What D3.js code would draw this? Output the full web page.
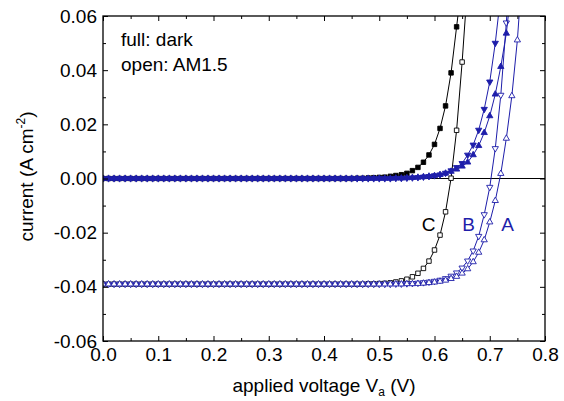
<!DOCTYPE html>
<html>
<head>
<meta charset="utf-8">
<script src="https://cdn.jsdelivr.net/npm/d3@7/dist/d3.min.js"></script>
<style>
  body { margin: 0; background: #fff; }
  text { font-family: "Liberation Sans", Arial, sans-serif; }
</style>
</head>
<body>
<script>
'use strict';

//data: voltage grid (V) and current densities (A cm^-2)
var volts = [0.00, 0.01, 0.02, 0.03, 0.04, 0.05, 0.06, 0.07, 0.08, 0.09,
  0.10, 0.11, 0.12, 0.13, 0.14, 0.15, 0.16, 0.17, 0.18, 0.19,
  0.20, 0.21, 0.22, 0.23, 0.24, 0.25, 0.26, 0.27, 0.28, 0.29,
  0.30, 0.31, 0.32, 0.33, 0.34, 0.35, 0.36, 0.37, 0.38, 0.39,
  0.40, 0.41, 0.42, 0.43, 0.44, 0.45, 0.46, 0.47, 0.48, 0.49,
  0.50, 0.51, 0.52, 0.53, 0.54, 0.55, 0.56, 0.57, 0.58, 0.59,
  0.60, 0.61, 0.62, 0.63, 0.64, 0.65, 0.66, 0.67, 0.68, 0.69,
  0.70, 0.71, 0.72, 0.73, 0.74, 0.75, 0.76];

var cDark = [0, 0, 0, 0, 0, 0, 0, 0, 0, 0,
  0, 0, 0, 0, 0, 0, 0, 0, 0, 0,
  0, 0, 0, 0, 0, 0, 0, 0, 0, 0,
  0, 0, 0, 0, 0, 0, 0, 0, 0, 0,
  0, 0, 0, 0, 0, 0, 0.0001, 0.0001, 0.0002, 0.0003,
  0.0004, 0.0005, 0.0008, 0.0011, 0.0014, 0.0019, 0.0029, 0.0041, 0.0060, 0.0087,
  0.0126, 0.0185, 0.0268, 0.0390, 0.0560, 0.0730];

var cLight = [-0.039, -0.039, -0.039, -0.039, -0.039, -0.039, -0.039, -0.039, -0.039, -0.039,
  -0.039, -0.039, -0.039, -0.039, -0.039, -0.039, -0.039, -0.039, -0.039, -0.039,
  -0.039, -0.039, -0.039, -0.039, -0.039, -0.039, -0.039, -0.039, -0.039, -0.039,
  -0.039, -0.039, -0.039, -0.039, -0.039, -0.039, -0.039, -0.039, -0.039, -0.039,
  -0.039, -0.039, -0.039, -0.039, -0.039, -0.039, -0.039, -0.039, -0.0389, -0.0389,
  -0.0388, -0.0387, -0.0385, -0.0382, -0.0378, -0.0372, -0.0363, -0.0350, -0.0332, -0.0305,
  -0.0264, -0.0209, -0.0123, 0.0001, 0.0178, 0.0430, 0.0720];

var bDark = [0, 0, 0, 0, 0, 0, 0, 0, 0, 0,
  0, 0, 0, 0, 0, 0, 0, 0, 0, 0,
  0, 0, 0, 0, 0, 0, 0, 0, 0, 0,
  0, 0, 0, 0, 0, 0, 0, 0, 0, 0,
  0, 0, 0, 0, 0, 0, 0, 0, 0, 0,
  0, 0, 0, 0.0001, 0.0001, 0.0002, 0.0003, 0.0004, 0.0006, 0.0008,
  0.0011, 0.0014, 0.0020, 0.0029, 0.0041, 0.0056, 0.0087, 0.0124, 0.0179, 0.0256,
  0.0357, 0.0500, 0.0680];

var aDark = [0, 0, 0, 0, 0, 0, 0, 0, 0, 0,
  0, 0, 0, 0, 0, 0, 0, 0, 0, 0,
  0, 0, 0, 0, 0, 0, 0, 0, 0, 0,
  0, 0, 0, 0, 0, 0, 0, 0, 0, 0,
  0, 0, 0, 0, 0, 0, 0, 0, 0, 0,
  0, 0, 0, 0.0001, 0.0001, 0.0002, 0.0003, 0.0004, 0.0006, 0.0008,
  0.0010, 0.0014, 0.0019, 0.0026, 0.0034, 0.0045, 0.0060, 0.0087, 0.0121, 0.0169,
  0.0231, 0.0311, 0.0413, 0.0536, 0.0720];

var bLight = [-0.039, -0.039, -0.039, -0.039, -0.039, -0.039, -0.039, -0.039, -0.039, -0.039,
  -0.039, -0.039, -0.039, -0.039, -0.039, -0.039, -0.039, -0.039, -0.039, -0.039,
  -0.039, -0.039, -0.039, -0.039, -0.039, -0.039, -0.039, -0.039, -0.039, -0.039,
  -0.039, -0.039, -0.039, -0.039, -0.039, -0.039, -0.039, -0.039, -0.039, -0.039,
  -0.039, -0.039, -0.039, -0.039, -0.039, -0.039, -0.039, -0.039, -0.039, -0.039,
  -0.039, -0.039, -0.039, -0.0389, -0.0389, -0.0388, -0.0387, -0.0386, -0.0384, -0.0382,
  -0.0379, -0.0375, -0.0369, -0.0360, -0.0348, -0.0330, -0.0304, -0.0267, -0.0213, -0.0133,
  -0.0032, 0.0111, 0.0308, 0.0575, 0.0880];

var aLight = [-0.039, -0.039, -0.039, -0.039, -0.039, -0.039, -0.039, -0.039, -0.039, -0.039,
  -0.039, -0.039, -0.039, -0.039, -0.039, -0.039, -0.039, -0.039, -0.039, -0.039,
  -0.039, -0.039, -0.039, -0.039, -0.039, -0.039, -0.039, -0.039, -0.039, -0.039,
  -0.039, -0.039, -0.039, -0.039, -0.039, -0.039, -0.039, -0.039, -0.039, -0.039,
  -0.039, -0.039, -0.039, -0.039, -0.039, -0.039, -0.039, -0.039, -0.039, -0.039,
  -0.039, -0.039, -0.039, -0.039, -0.039, -0.0389, -0.0389, -0.0388, -0.0387, -0.0385,
  -0.0383, -0.0380, -0.0376, -0.0370, -0.0362, -0.0350, -0.0334, -0.0308, -0.0273, -0.0227,
  -0.0161, -0.0082, 0.0018, 0.0148, 0.0305, 0.0511, 0.0800];

var xTicks = [0.0, 0.1, 0.2, 0.3, 0.4, 0.5, 0.6, 0.7, 0.8];
var xMinor = [0.05, 0.15, 0.25, 0.35, 0.45, 0.55, 0.65, 0.75];
var yTicks = [-0.06, -0.04, -0.02, 0.00, 0.02, 0.04, 0.06];
var yMinor = [-0.05, -0.03, -0.01, 0.01, 0.03, 0.05];

//general setup
var margin = { top: 16, right: 19, bottom: 60, left: 103 };
var width = 564 - margin.left - margin.right,
    height = 401 - margin.top - margin.bottom;
var blue = '#1e1eaa';
var fontSize = 19;

var svg = d3.select('body').append('svg').attr('width', 564).attr('height', 401)
  .append('g').attr('transform', 'translate(' + margin.left + ',' + margin.top + ')');

var xScale = d3.scaleLinear().domain([0, 0.8]).range([0, width]);
var yScale = d3.scaleLinear().domain([-0.06, 0.06]).range([height, 0]);

svg.append('clipPath').attr('id', 'plotclip').append('rect')
  .attr('width', width).attr('height', height);

//zero line
svg.append('line').attr('x1', 0).attr('x2', width)
  .attr('y1', yScale(0)).attr('y2', yScale(0))
  .attr('stroke', '#000').attr('stroke-width', 1.2);

//series
var series = [
  { values: cDark, color: '#000', shape: d3.symbolSquare, size: 20, rotate: 0, fill: true },
  { values: cLight, color: '#000', shape: d3.symbolSquare, size: 20, rotate: 0, fill: false },
  { values: bLight, color: blue, shape: d3.symbolTriangle, size: 17, rotate: 180, fill: false },
  { values: aLight, color: blue, shape: d3.symbolTriangle, size: 17, rotate: 0, fill: false },
  { values: bDark, color: blue, shape: d3.symbolTriangle, size: 17, rotate: 180, fill: true },
  { values: aDark, color: blue, shape: d3.symbolTriangle, size: 17, rotate: 0, fill: true }
];

var line = d3.line()
  .x(function (d, i) { return xScale(volts[i]); })
  .y(function (d) { return yScale(d); });

var plot = svg.append('g').attr('clip-path', 'url(#plotclip)');

series.forEach(function (s) {
  var g = plot.append('g');
  g.append('path').datum(s.values).attr('d', line)
    .attr('fill', 'none').attr('stroke', s.color).attr('stroke-width', 1);
  g.selectAll('path.mark').data(s.values).enter().append('path')
    .attr('class', 'mark')
    .attr('d', d3.symbol().type(s.shape).size(s.size))
    .attr('transform', function (d, i) {
      return 'translate(' + xScale(volts[i]) + ',' + yScale(d) + ') rotate(' + s.rotate + ')';
    })
    .attr('fill', s.fill ? s.color : '#fff')
    .attr('stroke', s.color).attr('stroke-width', 0.9);
});

//axes
function styleAxis(g) {
  g.selectAll('text').attr('font-size', fontSize).attr('font-family', '"Liberation Sans", Arial, sans-serif').attr('fill', '#000');
  g.selectAll('line').attr('stroke', '#000').attr('stroke-width', 1);
  g.select('.domain').remove();
}

svg.append('g').attr('transform', 'translate(0,' + height + ')')
  .call(d3.axisBottom(xScale).tickValues(xTicks).tickSize(-5).tickPadding(7)
    .tickFormat(function (d) { return d.toFixed(1); }))
  .call(styleAxis);
svg.append('g').attr('transform', 'translate(0,' + height + ')')
  .call(d3.axisBottom(xScale).tickValues(xMinor).tickSize(-3).tickFormat(''))
  .call(styleAxis);
svg.append('g')
  .call(d3.axisTop(xScale).tickValues(xTicks).tickSize(-5).tickFormat(''))
  .call(styleAxis);
svg.append('g')
  .call(d3.axisTop(xScale).tickValues(xMinor).tickSize(-3).tickFormat(''))
  .call(styleAxis);

svg.append('g')
  .call(d3.axisLeft(yScale).tickValues(yTicks).tickSize(-5).tickPadding(6)
    .tickFormat(function (d) { return d.toFixed(2); }))
  .call(styleAxis);
svg.append('g')
  .call(d3.axisLeft(yScale).tickValues(yMinor).tickSize(-3).tickFormat(''))
  .call(styleAxis);
svg.append('g').attr('transform', 'translate(' + width + ',0)')
  .call(d3.axisRight(yScale).tickValues(yTicks).tickSize(-5).tickFormat(''))
  .call(styleAxis);
svg.append('g').attr('transform', 'translate(' + width + ',0)')
  .call(d3.axisRight(yScale).tickValues(yMinor).tickSize(-3).tickFormat(''))
  .call(styleAxis);

//frame
svg.append('rect').attr('width', width).attr('height', height)
  .attr('fill', 'none').attr('stroke', '#000').attr('stroke-width', 1.3);

//axis titles
var xTitle = svg.append('text').attr('x', width / 2).attr('y', height + 51)
  .attr('text-anchor', 'middle').attr('font-size', fontSize);
xTitle.append('tspan').text('applied voltage V');
xTitle.append('tspan').attr('font-size', 12).attr('dy', 4).text('a');
xTitle.append('tspan').attr('dy', -4).text(' (V)');

var yTitle = svg.append('text').attr('transform', 'translate(-70,' + (height / 2 - 2) + ') rotate(-90)')
  .attr('text-anchor', 'middle').attr('font-size', fontSize);
yTitle.append('tspan').text('current (A cm');
yTitle.append('tspan').attr('font-size', 12).attr('dy', -8).text('-2');
yTitle.append('tspan').attr('dy', 8).text(')');

//legend text
svg.append('text').attr('x', 18).attr('y', 30).attr('font-size', fontSize).text('full: dark');
svg.append('text').attr('x', 18).attr('y', 55).attr('font-size', fontSize).text('open: AM1.5');

//curve labels
var curveLabels = [
  { text: 'C', v: 0.577, color: '#000' },
  { text: 'B', v: 0.650, color: blue },
  { text: 'A', v: 0.721, color: blue }
];
svg.selectAll('.clabel').data(curveLabels).enter().append('text')
  .attr('class', 'clabel')
  .attr('x', function (d) { return xScale(d.v); })
  .attr('y', yScale(-0.0195))
  .attr('font-size', fontSize)
  .attr('fill', function (d) { return d.color; })
  .text(function (d) { return d.text; });
</script>
</body>
</html>
